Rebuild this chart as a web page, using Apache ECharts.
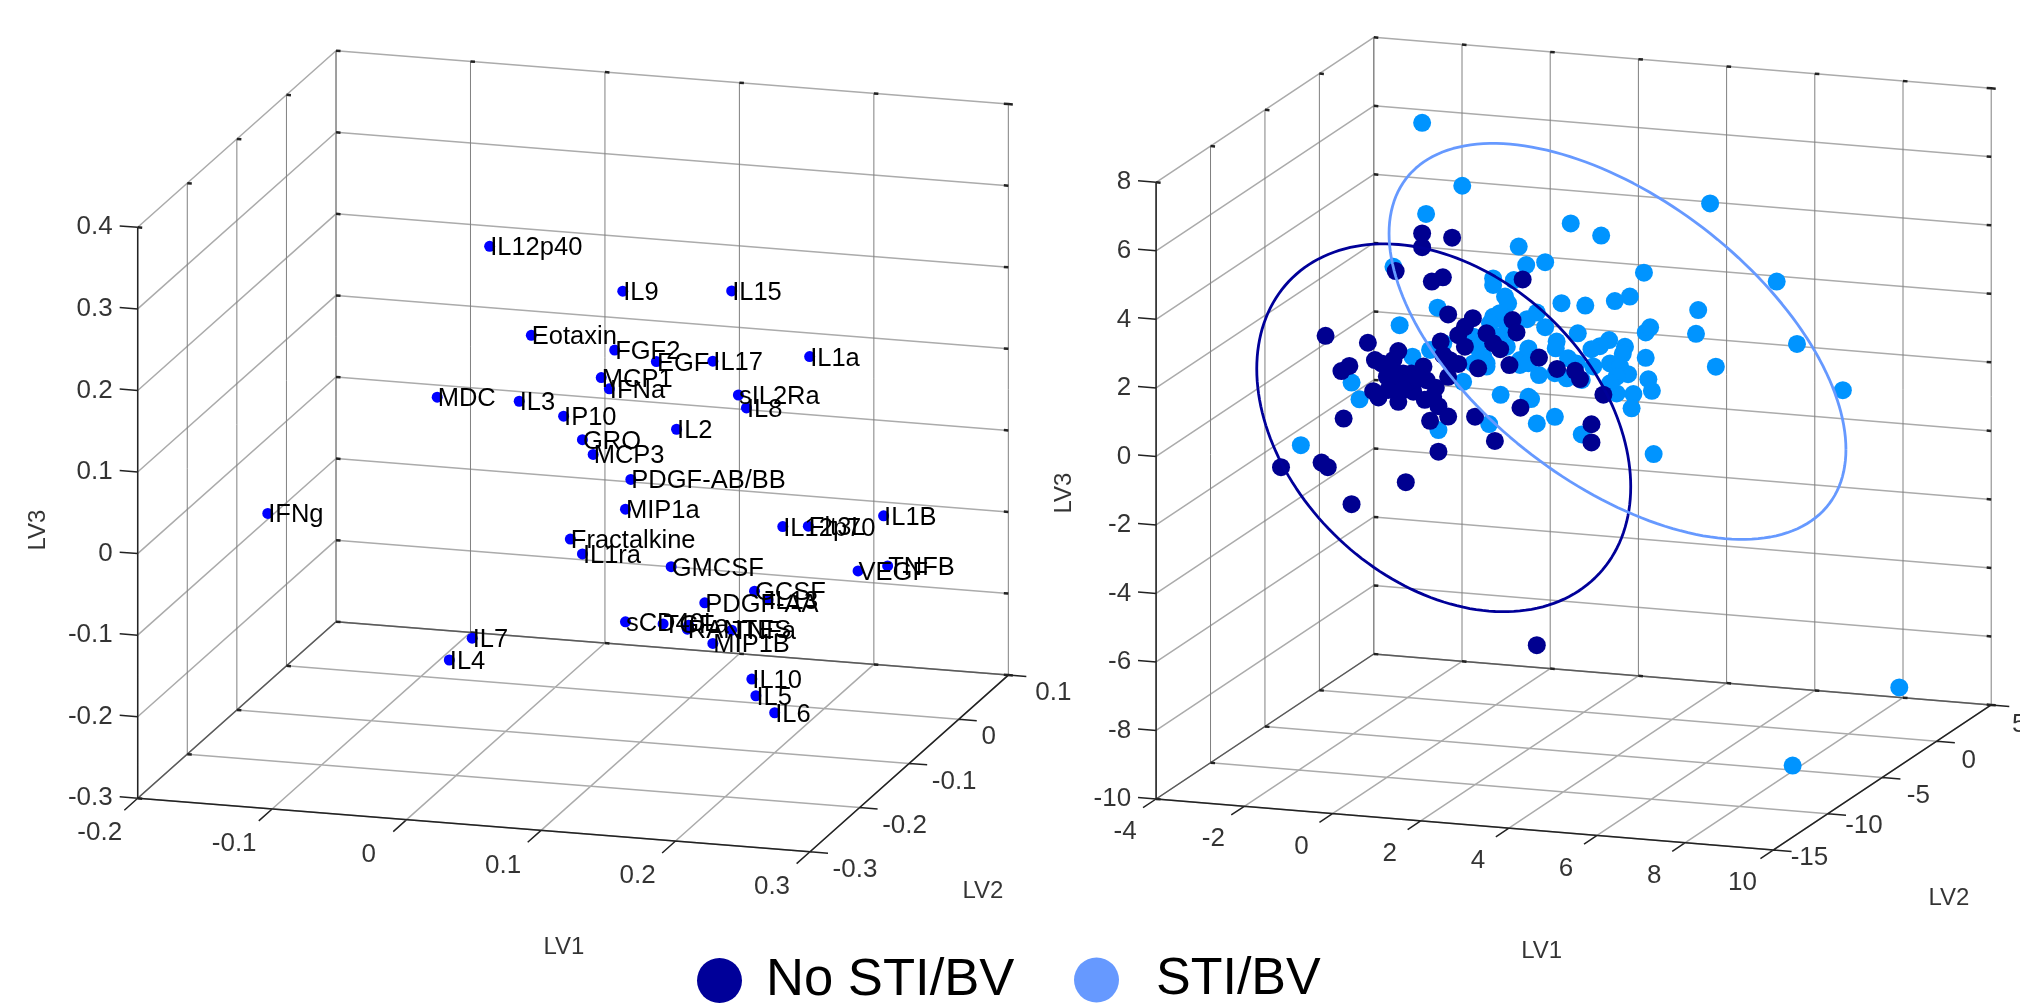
<!DOCTYPE html>
<html>
<head>
<meta charset="utf-8">
<title>LV1 LV2 LV3 loadings and scores</title>
<script src="https://cdn.jsdelivr.net/npm/echarts@6/dist/echarts.min.js"></script>
<style>html,body{margin:0;padding:0;background:#fff}#chart{width:2020px;height:1005px}</style>
</head>
<body>
<div id="chart"></div>
<script>
// ---- Values. The picture does not reveal depth, so LV2 is an estimate ----
const cytokineNames = ['IL12p40','Eotaxin','MDC','IL3','IP10','IL9','IL15','FGF2','EGF','IL17','IL1a','MCP1','IFNa','sIL2Ra','IL8','IL2','GRO','MCP3','PDGF-AB/BB','MIP1a','Fractalkine','IL1ra','GMCSF','IL12p70','Flt3L','IL1B','VEGF','TNFB','GCSF','IL13','PDGF-AA','sCD40L','TGFa','','RANTES','TNFa','MIP1B','IL10','IL5','IL6','IFNg','IL7','IL4'];
const cytokineLV1 = [-.012,.019,-.051,.010,.043,.087,.168,.081,.112,.154,.226,.071,.077,.173,.179,.127,.057,.065,.093,.089,.048,.057,.123,.206,.225,.281,.262,.284,.185,.195,.148,.089,.117,.136,.135,.168,.154,.183,.186,.200,-.177,-.025,-.042];
const cytokineLV3 = [.293,.188,.103,.106,.092,.251,.262,.178,.168,.174,.189,.143,.130,.135,.120,.087,.065,.048,.021,-.016,-.058,-.075,-.082,-.022,-.019,.001,-.069,-.060,-.104,-.113,-.123,-.154,-.153,-.152,-.157,-.154,-.172,-.212,-.232,-.251,-.056,-.189,-.218];
const cytokineLV2 = -0.1;

const noStiLV1 = [-1.67,-.99,-1.67,-2.27,-1.45,-1.20,-1.08,-3.86,-2.90,-2.21,-2.74,-3.32,-3.50,-2.59,-.52,-.70,-.85,-1.25,-.70,-.21,-.06,.10,-1.19,-1.04,-.85,-.40,.31,-1.64,-1.08,-2.32,-2.10,-2.47,-1.91,-2.25,-2.78,-2.66,-2.21,-1.87,-1.57,-1.36,-1.61,-1.30,-1.08,-1.49,-.47,.56,-.02,-1.30,-3.45,-4.87,-3.95,-3.81,-2.04,-3.27,.38,.47,.61,.98,1.39,1.80,1.91,2.44,2.17,2.17,.93,-2.40,-2.02,-1.76,-2.44,-1.42,-2.10];
const noStiLV3 = [3.58,3.53,3.18,2.42,2.20,2.35,1.28,.36,.26,.09,-.23,-.46,-.63,-.31,1.23,.96,.70,.47,.38,.82,.55,.39,.08,-.05,-.14,-.22,-.05,-.30,-.54,-.18,-.55,-.68,-.53,-.76,-1.14,-1.31,-1.39,-1.06,-.69,-.89,-1.27,-1.42,-1.70,-1.87,-1.64,-1.27,-2.30,-2.75,-2.01,-3.58,-3.35,-3.47,-3.72,-4.49,1.27,.92,2.48,.24,-.05,-.06,-.29,-.69,-1.58,-2.11,-8.16,-.43,-.83,-.66,-1.07,-1.16,-1.03];
const noStiLV2 = 0;

const stiLV1 = [-2.32,-1.32,-2.18,-1.89,-1.49,-3.27,-3.09,-1.30,-4.42,.11,-.15,.52,.69,-.06,-.06,.21,-.06,.17,-.74,-1.19,.74,-.36,-.21,.55,.74,-.51,1.12,1.70,2.39,.41,.28,.09,-.13,.25,.71,.93,1.12,1.49,2.03,2.70,3.04,3.36,4.59,4.54,3.40,3.50,1.86,1.38,.74,1.36,2.57,2.36,2.17,2.93,2.88,3.40,4.99,1.64,1.83,.55,.74,.98,1.34,1.61,1.95,2.21,2.59,2.82,3.00,2.74,3.46,3.54,3.12,2.74,3.08,2.59,.80,1.34,.93,1.95,3.58,-.28,-.51,-.21,-.43,.02,.25,-1.67,-.76,-1.58,4.86,6.37,6.83,7.87,9.15];
const stiLV3 = [2.54,1.45,.85,-.04,.20,-.94,-1.41,-2.12,-2.89,-.94,-1.82,3.43,2.91,2.44,2.25,1.94,1.32,1.25,-.65,.43,-.93,.12,-.15,.12,.44,.69,3.04,4.23,3.95,2.44,1.75,1.44,1.12,.97,1.33,1.55,1.14,1.88,1.87,2.07,2.24,2.97,2.01,1.31,1.23,1.39,1.04,.75,.48,.55,.92,.72,.61,.76,.55,.49,.40,.29,.16,-.02,.05,-.27,-.18,-.30,-.31,.11,.24,.17,-.03,-.13,-.13,-.46,-.60,-.62,-1.02,-.34,-.99,-1.45,-1.69,-1.90,-2.30,.13,-.09,-.05,.41,.75,.48,6.81,5.07,4.16,5.15,3.03,1.26,.02,-8.52];
const stiLV2 = 0;
const stiFarLV1 = [9.2];
const stiFarLV2 = [-10];
const stiFarLV3 = [-8.68];

const leftLV1Ticks = [-0.2,-0.1,0,0.1,0.2,0.3];
const leftLV2Ticks = [-0.3,-0.2,-0.1,0,0.1];
const leftLV3Ticks = [-0.3,-0.2,-0.1,0,0.1,0.2,0.3,0.4];
const rightLV1Ticks = [-4,-2,0,2,4,6,8,10];
const rightLV2Ticks = [-15,-10,-5,0,5];
const rightLV3Ticks = [-10,-8,-6,-4,-2,0,2,4,6,8];

const noStiEllipse = {center:[-1.18,0,-2.04], u:[4.24,0,-1.27], v:[0,0,-5.085]};
const stiEllipse   = {center:[2.76,0,0.90],  u:[5.18,0,-2.60], v:[0,0,-4.845]};

// ---- Oblique view of each 3-D box: where the minimum corner sits and what one unit moves ----
const leftView = {ox:137.7, oy:798.3, a:[1344.6,106.8], b:[495.8,-441.5], k:815.7,
  xT:leftLV1Ticks, yT:leftLV2Ticks, zT:leftLV3Ticks, ex:0.0134, ey:0.027};
const rightView = {ox:1156.1, oy:799, a:[44.1,3.64], b:[10.885,-7.25], k:34.26,
  xT:rightLV1Ticks, yT:rightLV2Ticks, zT:rightLV3Ticks, ex:0.41, ey:1.2};

function project(v, l1, l2, l3) {
  const d1 = l1 - v.xT[0], d2 = l2 - v.yT[0], d3 = l3 - v.zT[0];
  return [v.ox + d1*v.a[0] + d2*v.b[0], v.oy + d1*v.a[1] + d2*v.b[1] - d3*v.k];
}
const GAP = [NaN, NaN];
function seg(out, v, p, q) { out.push(project(v,p[0],p[1],p[2]), project(v,q[0],q[1],q[2]), GAP); }

function wire(v) {
  const x0=v.xT[0], x1=v.xT[v.xT.length-1], y0=v.yT[0], y1=v.yT[v.yT.length-1], z0=v.zT[0], z1=v.zT[v.zT.length-1];
  const soft=[], upright=[], axis=[], edge=[], nick=[];
  const nx=v.ex/4, nz=(z1-z0)/140;
  v.xT.forEach(t=>{ seg(soft,v,[t,y0,z0],[t,y1,z0]); seg(upright,v,[t,y1,z0],[t,y1,z1]); seg(axis,v,[t,y0,z0],[t,y0-v.ey,z0]);
    seg(nick,v,[t,y1,z1],[t+nx,y1,z1]); seg(nick,v,[t,y1,z0],[t+nx,y1,z0]); });
  v.yT.forEach(t=>{ seg(soft,v,[x0,t,z0],[x1,t,z0]); seg(upright,v,[x0,t,z0],[x0,t,z1]); seg(axis,v,[x1,t,z0],[x1+v.ex,t,z0]);
    seg(nick,v,[x0,t,z1],[x0+nx,t,z1]); seg(nick,v,[x0,t,z0],[x0+nx,t,z0]); });
  v.zT.forEach(t=>{ seg(soft,v,[x0,y0,t],[x0,y1,t]); seg(soft,v,[x0,y1,t],[x1,y1,t]); seg(axis,v,[x0,y0,t],[x0-v.ex,y0,t]);
    seg(nick,v,[x0,y1,t],[x0+nx,y1,t]); seg(nick,v,[x1,y1,t],[x1-nx,y1,t]); });
  seg(axis,v,[x0,y0,z0],[x1,y0,z0]); seg(axis,v,[x1,y0,z0],[x1,y1,z0]); seg(axis,v,[x0,y0,z0],[x0,y0,z1]);
  seg(edge,v,[x0,y0,z0],[x0,y1,z0]); seg(edge,v,[x0,y1,z0],[x1,y1,z0]);
  return {soft,upright,axis,edge,nick};
}
function lineSeries(data, color, width, z, name) {
  return {type:'line', name, data, showSymbol:false, symbol:'none', connectNulls:false, silent:true, z,
    lineStyle:{color, width}, itemStyle:{color}, emphasis:{disabled:true}, clip:false};
}
function wireSeries(v) {
  const w = wire(v);
  return [lineSeries(w.soft,'#ababab',1.5,1), lineSeries(w.upright,'#808080',1,1),
          lineSeries(w.edge,'#5a5a5a',1.5,2), lineSeries(w.axis,'#222222',1.5,2), lineSeries(w.nick,'#222222',2.5,2)];
}
function textSeries(items, fontSize, align, rotate) {
  return {type:'scatter', symbolSize:1, silent:true, z:10, itemStyle:{color:'rgba(0,0,0,0)'},
    data: items.map(i=>({name:i.text, value:i.pos})), clip:false,
    label:{show:true, position:'inside', align:align||'center', verticalAlign:'middle', rotate:rotate||0,
      color:'#000', fontFamily:'Liberation Sans', fontSize, formatter:p=>p.name}};
}
function ellipse(v, e) {
  const pts=[];
  for (let i=0;i<=180;i++){ const t=i/180*2*Math.PI, c=Math.cos(t), s=Math.sin(t);
    pts.push(project(v, e.center[0]+e.u[0]*c+e.v[0]*s, e.center[1]+e.u[1]*c+e.v[1]*s, e.center[2]+e.u[2]*c+e.v[2]*s)); }
  return pts;
}
function shift(p,dx,dy){ return [p[0]+dx,p[1]+dy]; }

// Tick labels and axis names, from the tick arrays
const leftLabels = [
  ...leftLV1Ticks.map(t=>({text:String(t), pos:shift(project(leftView,t,-0.3,-0.3),-38,35)})),
  ...leftLV2Ticks.map(t=>({text:String(t), pos:shift(project(leftView,0.3,t,-0.3),t===0?30:45,18)}))];
const leftLV3Labels = leftLV3Ticks.map(t=>({text:String(t), pos:shift(project(leftView,-0.2,-0.3,t),-25,0)}));
const rightLabels = rightLV1Ticks.map(t=>({text:String(t), pos:shift(project(rightView,t,-15,-10),-31,33)}));
const lv2LabelOffsets = {'-15':[36,8],'-10':[36,12],'-5':[36,18],'0':[32,20],'5':[28,20]};
const rightLV2Labels = rightLV2Ticks.map(t=>({text:String(t), pos:shift(project(rightView,10,t,-10),lv2LabelOffsets[t][0],lv2LabelOffsets[t][1])}));
const rightLV3Labels = rightLV3Ticks.map(t=>({text:String(t), pos:shift(project(rightView,-4,-15,t),-25,0)}));

const cytokinePts = cytokineNames.map((n,i)=>({name:n, value:project(leftView,cytokineLV1[i],cytokineLV2,cytokineLV3[i])}));
const noStiPts = noStiLV1.map((x,i)=>project(rightView,x,noStiLV2,noStiLV3[i]));
const stiPts = stiLV1.map((x,i)=>project(rightView,x,stiLV2,stiLV3[i]))
  .concat(stiFarLV1.map((x,i)=>project(rightView,x,stiFarLV2[i],stiFarLV3[i])));

const series = [
  ...wireSeries(leftView), ...wireSeries(rightView),
  {type:'scatter', data:cytokinePts, symbolSize:11, silent:true, z:5, clip:false, itemStyle:{color:'#0000ff',opacity:1},
    label:{show:true, position:'right', distance:-5, offset:[0,2], color:'#000', fontFamily:'Liberation Sans', fontSize:25.5, formatter:p=>p.name}},
  {type:'scatter', data:stiPts, symbolSize:18, silent:true, z:5, clip:false, itemStyle:{color:'#0094ff',opacity:1}},
  {type:'scatter', data:noStiPts, symbolSize:18, silent:true, z:6, clip:false, itemStyle:{color:'#000090',opacity:1}},
  lineSeries(ellipse(rightView,noStiEllipse),'#000099',2.8,7,'No STI/BV'),
  lineSeries(ellipse(rightView,stiEllipse),'#6699ff',2.8,8,'STI/BV'),
  textSeries(leftLabels,26), textSeries(leftLV3Labels,26,'right'),
  textSeries(rightLabels,26), textSeries(rightLV2Labels,26), textSeries(rightLV3Labels,26,'right'),
  textSeries([{text:'LV1',pos:[564,947]},{text:'LV2',pos:[983,891]},{text:'LV1',pos:[1541.6,951]},{text:'LV2',pos:[1949,898]}],24),
  textSeries([{text:'LV3',pos:[38,530]},{text:'LV3',pos:[1064,493]}],24,'center',90)
];

const legendBase = {orient:'horizontal', top:949, itemWidth:45, itemHeight:45, icon:'circle', selectedMode:false};
const chart = echarts.init(document.getElementById('chart'), null, {renderer:'canvas'});
chart.setOption({
  animation:false,
  backgroundColor:'#ffffff',
  tooltip:{show:false},
  grid:{left:0,right:0,top:0,bottom:0},
  xAxis:{type:'value',min:0,max:2020,show:false},
  yAxis:{type:'value',min:0,max:1005,inverse:true,show:false},
  legend:[
    Object.assign({},legendBase,{left:692,data:['No STI/BV'],textStyle:{fontFamily:'Liberation Sans',fontSize:52.6,color:'#000',padding:[10,0,0,19]}}),
    Object.assign({},legendBase,{left:1069,data:['STI/BV'],textStyle:{fontFamily:'Liberation Sans',fontSize:52,color:'#000',padding:[10,0,0,32]}})
  ],
  series
});
</script>
</body>
</html>
